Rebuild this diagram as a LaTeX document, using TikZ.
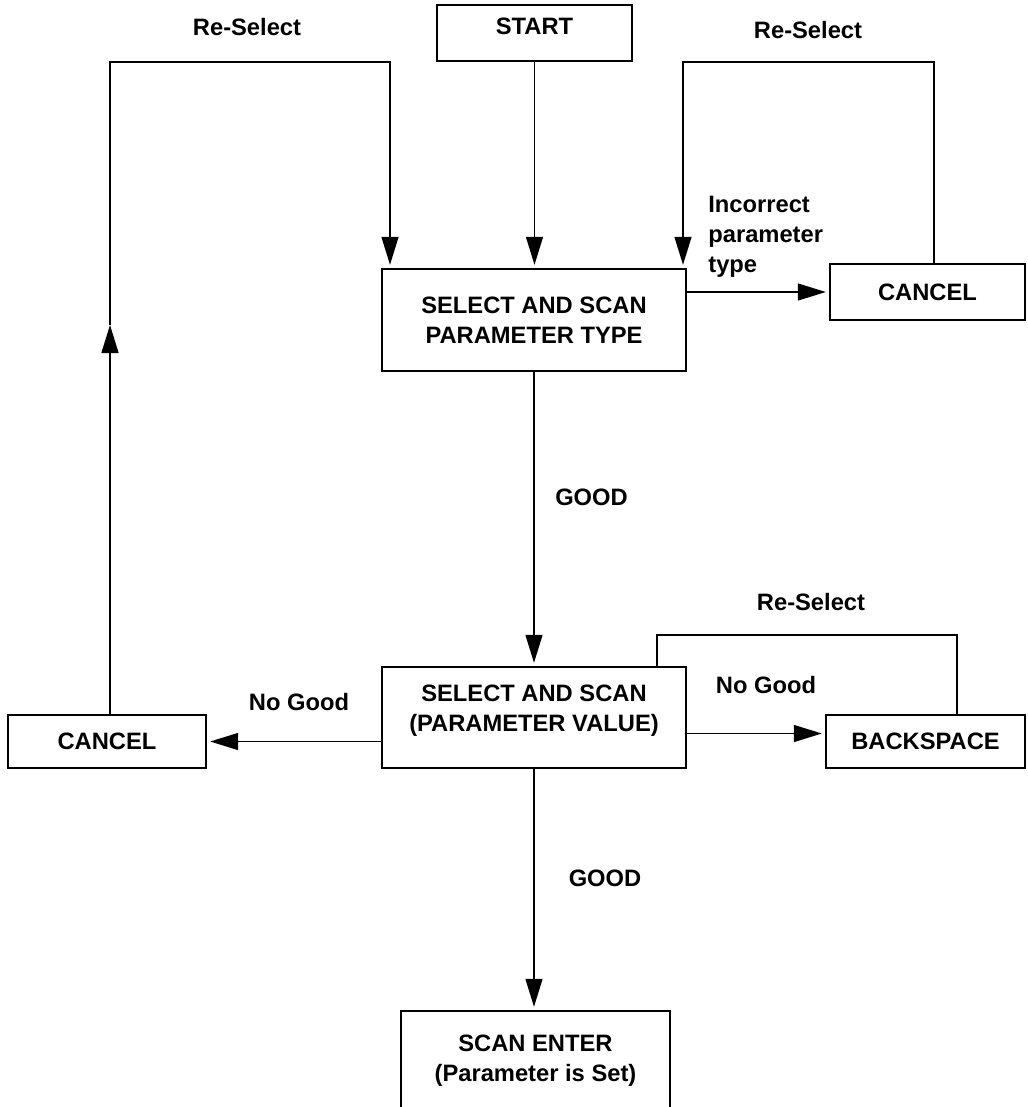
\documentclass[tikz,border=0pt]{standalone}
\usepackage{fontspec}
\setmainfont{Liberation Sans}
\usetikzlibrary{arrows.meta, calc}

\tikzset{
  box/.style={draw, line width=0.8pt, align=center, font=\bfseries\fontsize{13.5}{17}\selectfont},
  lbl/.style={inner sep=0, align=left, font=\bfseries\fontsize{13.5}{17}\selectfont},
  flow/.style={->, line width=0.8pt, shorten >=2pt},
}

\begin{document}
\begin{tikzpicture}[x=0.02cm, y=-0.02cm, >={Triangle[length=0.56cm,width=0.34cm]}]
\useasboundingbox (0,0) rectangle (1028,1107);
\clip (0,0) rectangle (1028,1107);
% Boxes
\node[box, minimum width=3.9cm, minimum height=1.12cm, text height=0.36cm, text depth=0.32cm] (start) at (534.5,33) {START};
\node[box, minimum width=6.08cm, minimum height=2.04cm] (type) at (534,320) {SELECT AND SCAN\\PARAMETER TYPE};
\node[box, minimum width=3.9cm, minimum height=1.12cm] (cancelR) at (927.5,292) {CANCEL};
\node[box, minimum width=6.08cm, minimum height=2.02cm, text height=0.96cm, text depth=0.42cm] (value) at (534,717.5) {SELECT AND SCAN\\(PARAMETER VALUE)};
\node[box, minimum width=3.96cm, minimum height=1.06cm] (cancelL) at (107,741.5) {CANCEL};
\node[box, minimum width=3.98cm, minimum height=1.06cm] (back) at (925.5,741.5) {BACKSPACE};
\node[box, minimum width=5.38cm, minimum height=1.98cm] (enter) at (535.5,1060.5) {SCAN ENTER\\(Parameter is Set)};
% Corners of the loops
\coordinate (ltop) at (390,62);
\coordinate (lup) at (110,325);
\coordinate (rtop) at (683,62);
\coordinate (vtop) at (657,635);
% Labels
\node[lbl] (reselL) at (247,27) {Re-Select};
\node[lbl] (reselR) at (808,30) {Re-Select};
\node[lbl] (reselV) at (811,602) {Re-Select};
\node[lbl, anchor=west] (wrong) at (708,237) {Incorrect\\parameter\\type};
\node[lbl] (good1) at (591.5,497) {GOOD};
\node[lbl] (good2) at (605,878) {GOOD};
\node[lbl] (nogoodL) at (299,702) {No Good};
\node[lbl] (nogoodR) at (766,685) {No Good};
% Arrows
\draw[flow] (start.south) -- (start.south |- type.north);
\draw[flow] (type.south) -- (value.north);
\draw[flow] (value.south) -- (value.south |- enter.north);
\draw[flow] (type.east |- cancelR.west) -- (cancelR.west);
\draw[flow] (value.west |- cancelL.east) -- (cancelL.east);
\draw[flow] ($(value.east |- back.west)+(0,-8)$) -- ($(back.west)+(0,-8)$);
% Re-Select loops
\draw[->, line width=0.8pt] (cancelL.north -| lup) -- (lup);
\draw[flow] (lup) |- (ltop) -- (ltop |- type.north);
\draw[flow] ([xshift=0.13cm]cancelR.north) |- (rtop) -- (rtop |- type.north);
\draw[line width=0.8pt] ([xshift=0.63cm]back.north) |- (vtop) -- (vtop |- value.north);
\end{tikzpicture}
\end{document}
